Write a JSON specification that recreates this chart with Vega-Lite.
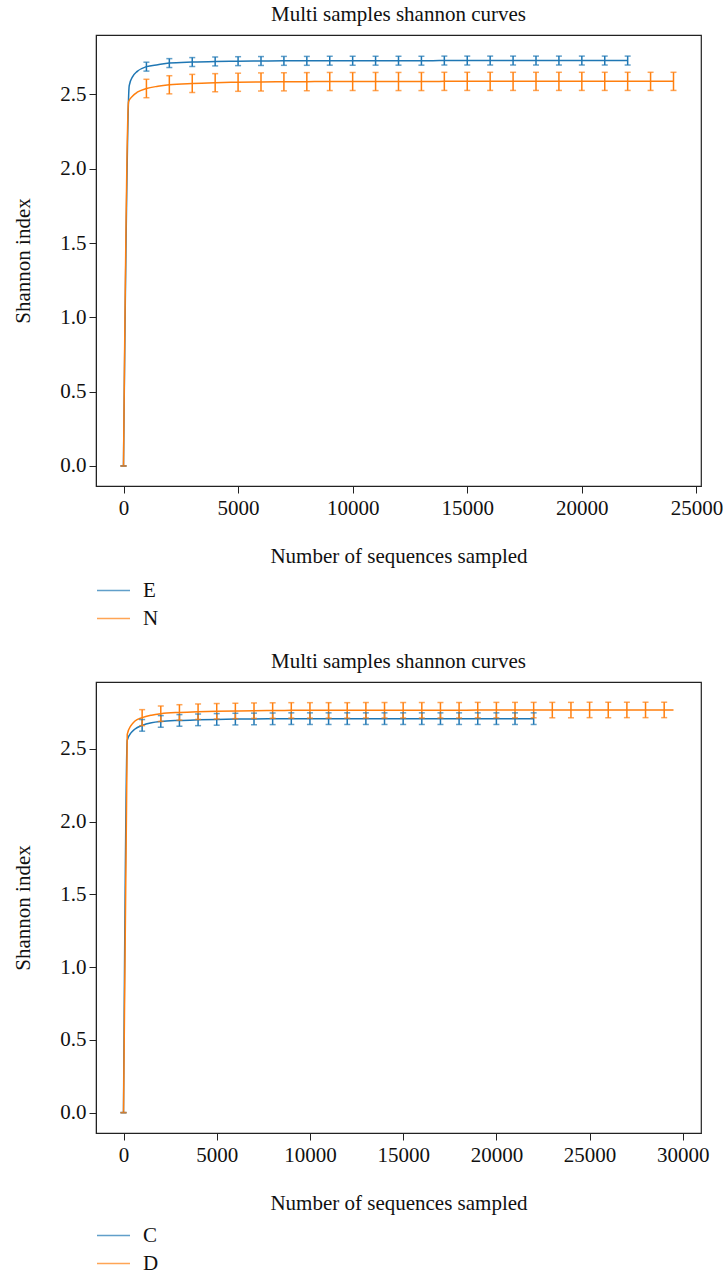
{
  "$schema": "https://vega.github.io/schema/vega-lite/v6.json",
  "background": "white",
  "padding": {"left": 12, "top": 3, "right": 0, "bottom": 0},
  "config": {
    "font": "'Liberation Serif', 'Times New Roman', serif",
    "view": {"stroke": "#222", "strokeWidth": 1.2},
    "axis": {"grid": false, "domainColor": "#222", "tickColor": "#222", "labelColor": "#111", "titleColor": "#111", "labelFontSize": 21, "titleFontSize": 21, "titleFontWeight": "normal", "tickSize": 7, "labelFont": "'Liberation Serif', 'Times New Roman', serif", "titleFont": "'Liberation Serif', 'Times New Roman', serif"},
    "title": {"fontSize": 21, "fontWeight": "normal", "color": "#111", "font": "'Liberation Serif', 'Times New Roman', serif", "offset": 10},
    "legend": {"symbolType": "stroke", "symbolSize": 1089, "symbolStrokeWidth": 1.5, "labelFontSize": 21, "labelFont": "'Liberation Serif', 'Times New Roman', serif", "labelColor": "#111", "labelOffset": 12, "rowPadding": -7, "padding": 0, "title": null},
    "concat": {"spacing": 20}
  },
  "datasets": {
    "top": [
      {"s":"E","x":0,"y":0,"lo":0,"hi":0},
      {"s":"E","x":250,"y":2.56},
      {"s":"E","x":400,"y":2.62},
      {"s":"E","x":600,"y":2.655},
      {"s":"E","x":1000,"y":2.687,"lo":2.657,"hi":2.717},
      {"s":"E","x":1500,"y":2.700},
      {"s":"E","x":2000,"y":2.711,"lo":2.681,"hi":2.741},
      {"s":"E","x":3000,"y":2.718,"lo":2.688,"hi":2.748},
      {"s":"E","x":4000,"y":2.722,"lo":2.692,"hi":2.752},
      {"s":"E","x":5000,"y":2.724,"lo":2.694,"hi":2.754},
      {"s":"E","x":6000,"y":2.725,"lo":2.695,"hi":2.755},
      {"s":"E","x":7000,"y":2.726,"lo":2.696,"hi":2.756},
      {"s":"E","x":8000,"y":2.726,"lo":2.696,"hi":2.756},
      {"s":"E","x":9000,"y":2.727,"lo":2.697,"hi":2.757},
      {"s":"E","x":10000,"y":2.727,"lo":2.697,"hi":2.757},
      {"s":"E","x":11000,"y":2.727,"lo":2.697,"hi":2.757},
      {"s":"E","x":12000,"y":2.727,"lo":2.697,"hi":2.757},
      {"s":"E","x":13000,"y":2.727,"lo":2.697,"hi":2.757},
      {"s":"E","x":14000,"y":2.728,"lo":2.698,"hi":2.758},
      {"s":"E","x":15000,"y":2.728,"lo":2.698,"hi":2.758},
      {"s":"E","x":16000,"y":2.728,"lo":2.698,"hi":2.758},
      {"s":"E","x":17000,"y":2.728,"lo":2.698,"hi":2.758},
      {"s":"E","x":18000,"y":2.728,"lo":2.698,"hi":2.758},
      {"s":"E","x":19000,"y":2.728,"lo":2.698,"hi":2.758},
      {"s":"E","x":20000,"y":2.728,"lo":2.698,"hi":2.758},
      {"s":"E","x":21000,"y":2.728,"lo":2.698,"hi":2.758},
      {"s":"E","x":22000,"y":2.728,"lo":2.698,"hi":2.758},
      {"s":"N","x":0,"y":0,"lo":0,"hi":0},
      {"s":"N","x":220,"y":2.45},
      {"s":"N","x":400,"y":2.49},
      {"s":"N","x":600,"y":2.515},
      {"s":"N","x":1000,"y":2.540,"lo":2.478,"hi":2.602},
      {"s":"N","x":1500,"y":2.555},
      {"s":"N","x":2000,"y":2.565,"lo":2.504,"hi":2.626},
      {"s":"N","x":3000,"y":2.574,"lo":2.513,"hi":2.635},
      {"s":"N","x":4000,"y":2.579,"lo":2.518,"hi":2.640},
      {"s":"N","x":5000,"y":2.582,"lo":2.521,"hi":2.643},
      {"s":"N","x":6000,"y":2.584,"lo":2.523,"hi":2.645},
      {"s":"N","x":7000,"y":2.585,"lo":2.524,"hi":2.646},
      {"s":"N","x":8000,"y":2.586,"lo":2.525,"hi":2.647},
      {"s":"N","x":9000,"y":2.587,"lo":2.526,"hi":2.648},
      {"s":"N","x":10000,"y":2.587,"lo":2.526,"hi":2.648},
      {"s":"N","x":11000,"y":2.587,"lo":2.526,"hi":2.648},
      {"s":"N","x":12000,"y":2.587,"lo":2.526,"hi":2.648},
      {"s":"N","x":13000,"y":2.587,"lo":2.526,"hi":2.648},
      {"s":"N","x":14000,"y":2.588,"lo":2.527,"hi":2.649},
      {"s":"N","x":15000,"y":2.588,"lo":2.527,"hi":2.649},
      {"s":"N","x":16000,"y":2.588,"lo":2.527,"hi":2.649},
      {"s":"N","x":17000,"y":2.588,"lo":2.527,"hi":2.649},
      {"s":"N","x":18000,"y":2.588,"lo":2.527,"hi":2.649},
      {"s":"N","x":19000,"y":2.588,"lo":2.527,"hi":2.649},
      {"s":"N","x":20000,"y":2.588,"lo":2.527,"hi":2.649},
      {"s":"N","x":21000,"y":2.588,"lo":2.527,"hi":2.649},
      {"s":"N","x":22000,"y":2.588,"lo":2.527,"hi":2.649},
      {"s":"N","x":23000,"y":2.588,"lo":2.527,"hi":2.649},
      {"s":"N","x":24000,"y":2.588,"lo":2.527,"hi":2.649}
    ],
    "bottom": [
      {"s":"C","x":0,"y":0,"lo":0,"hi":0},
      {"s":"C","x":200,"y":2.56},
      {"s":"C","x":400,"y":2.61},
      {"s":"C","x":600,"y":2.635},
      {"s":"C","x":1000,"y":2.662,"lo":2.622,"hi":2.702},
      {"s":"C","x":1500,"y":2.680},
      {"s":"C","x":2000,"y":2.689,"lo":2.649,"hi":2.729},
      {"s":"C","x":3000,"y":2.696,"lo":2.656,"hi":2.736},
      {"s":"C","x":4000,"y":2.700,"lo":2.660,"hi":2.740},
      {"s":"C","x":5000,"y":2.703,"lo":2.663,"hi":2.743},
      {"s":"C","x":6000,"y":2.705,"lo":2.665,"hi":2.745},
      {"s":"C","x":7000,"y":2.706,"lo":2.666,"hi":2.746},
      {"s":"C","x":8000,"y":2.707,"lo":2.667,"hi":2.747},
      {"s":"C","x":9000,"y":2.708,"lo":2.668,"hi":2.748},
      {"s":"C","x":10000,"y":2.708,"lo":2.668,"hi":2.748},
      {"s":"C","x":11000,"y":2.708,"lo":2.668,"hi":2.748},
      {"s":"C","x":12000,"y":2.708,"lo":2.668,"hi":2.748},
      {"s":"C","x":13000,"y":2.708,"lo":2.668,"hi":2.748},
      {"s":"C","x":14000,"y":2.708,"lo":2.668,"hi":2.748},
      {"s":"C","x":15000,"y":2.708,"lo":2.668,"hi":2.748},
      {"s":"C","x":16000,"y":2.708,"lo":2.668,"hi":2.748},
      {"s":"C","x":17000,"y":2.708,"lo":2.668,"hi":2.748},
      {"s":"C","x":18000,"y":2.708,"lo":2.668,"hi":2.748},
      {"s":"C","x":19000,"y":2.708,"lo":2.668,"hi":2.748},
      {"s":"C","x":20000,"y":2.708,"lo":2.668,"hi":2.748},
      {"s":"C","x":21000,"y":2.708,"lo":2.668,"hi":2.748},
      {"s":"C","x":22000,"y":2.708,"lo":2.668,"hi":2.748},
      {"s":"D","x":0,"y":0,"lo":0,"hi":0},
      {"s":"D","x":200,"y":2.60},
      {"s":"D","x":400,"y":2.66},
      {"s":"D","x":600,"y":2.69},
      {"s":"D","x":1000,"y":2.715,"lo":2.660,"hi":2.770},
      {"s":"D","x":1500,"y":2.732},
      {"s":"D","x":2000,"y":2.742,"lo":2.689,"hi":2.795},
      {"s":"D","x":3000,"y":2.751,"lo":2.698,"hi":2.804},
      {"s":"D","x":4000,"y":2.756,"lo":2.703,"hi":2.809},
      {"s":"D","x":5000,"y":2.759,"lo":2.706,"hi":2.812},
      {"s":"D","x":6000,"y":2.761,"lo":2.708,"hi":2.814},
      {"s":"D","x":7000,"y":2.763,"lo":2.710,"hi":2.816},
      {"s":"D","x":8000,"y":2.764,"lo":2.711,"hi":2.817},
      {"s":"D","x":9000,"y":2.765,"lo":2.712,"hi":2.818},
      {"s":"D","x":10000,"y":2.765,"lo":2.712,"hi":2.818},
      {"s":"D","x":11000,"y":2.765,"lo":2.712,"hi":2.818},
      {"s":"D","x":12000,"y":2.765,"lo":2.712,"hi":2.818},
      {"s":"D","x":13000,"y":2.766,"lo":2.713,"hi":2.819},
      {"s":"D","x":14000,"y":2.766,"lo":2.713,"hi":2.819},
      {"s":"D","x":15000,"y":2.766,"lo":2.713,"hi":2.819},
      {"s":"D","x":16000,"y":2.766,"lo":2.713,"hi":2.819},
      {"s":"D","x":17000,"y":2.766,"lo":2.713,"hi":2.819},
      {"s":"D","x":18000,"y":2.766,"lo":2.713,"hi":2.819},
      {"s":"D","x":19000,"y":2.767,"lo":2.714,"hi":2.820},
      {"s":"D","x":20000,"y":2.767,"lo":2.714,"hi":2.820},
      {"s":"D","x":21000,"y":2.767,"lo":2.714,"hi":2.820},
      {"s":"D","x":22000,"y":2.767,"lo":2.714,"hi":2.820},
      {"s":"D","x":23000,"y":2.767,"lo":2.714,"hi":2.820},
      {"s":"D","x":24000,"y":2.767,"lo":2.714,"hi":2.820},
      {"s":"D","x":25000,"y":2.768,"lo":2.715,"hi":2.821},
      {"s":"D","x":26000,"y":2.768,"lo":2.715,"hi":2.821},
      {"s":"D","x":27000,"y":2.768,"lo":2.715,"hi":2.821},
      {"s":"D","x":28000,"y":2.768,"lo":2.715,"hi":2.821},
      {"s":"D","x":29000,"y":2.768,"lo":2.715,"hi":2.821},
      {"s":"D","x":29500,"y":2.768}
    ]
  },
  "vconcat": [
    {
      "title": "Multi samples shannon curves",
      "width": 605,
      "height": 451,
      "data": {"name": "top"},
      "encoding": {
        "x": {"field": "x", "type": "quantitative", "scale": {"domain": [-1200, 25200], "nice": false, "zero": false},
              "axis": {"values": [0, 5000, 10000, 15000, 20000, 25000], "format": "d", "title": "Number of sequences sampled", "labelPadding": 4, "titlePadding": 27}},
        "color": {"field": "s", "type": "nominal", "scale": {"domain": ["E", "N"], "range": ["#1f77b4", "#ff7f0e"]},
                  "legend": {"orient": "none", "legendX": 0, "legendY": 538, "direction": "vertical"}}
      },
      "layer": [
        {"mark": {"type": "line", "strokeWidth": 1.5, "interpolate": "monotone"},
         "encoding": {"y": {"field": "y", "type": "quantitative", "scale": {"domain": [-0.135, 2.9], "nice": false, "zero": false},
              "axis": {"values": [0, 0.5, 1, 1.5, 2, 2.5], "format": ".1f", "title": "Shannon index", "labelPadding": 3, "titlePadding": 26}}}},
        {"transform": [{"filter": "isValid(datum.lo)"}],
         "mark": {"type": "rule", "strokeWidth": 1.5},
         "encoding": {"y": {"field": "lo", "type": "quantitative"}, "y2": {"field": "hi"}}},
        {"transform": [{"filter": "isValid(datum.lo)"}],
         "mark": {"type": "tick", "orient": "horizontal", "size": 6, "thickness": 1.5},
         "encoding": {"y": {"field": "lo", "type": "quantitative"}}},
        {"transform": [{"filter": "isValid(datum.lo)"}],
         "mark": {"type": "tick", "orient": "horizontal", "size": 6, "thickness": 1.5},
         "encoding": {"y": {"field": "hi", "type": "quantitative"}}}
      ]
    },
    {
      "title": "Multi samples shannon curves",
      "width": 605,
      "height": 451,
      "data": {"name": "bottom"},
      "encoding": {
        "x": {"field": "x", "type": "quantitative", "scale": {"domain": [-1475, 30975], "nice": false, "zero": false},
              "axis": {"values": [0, 5000, 10000, 15000, 20000, 25000, 30000], "format": "d", "title": "Number of sequences sampled", "labelPadding": 4, "titlePadding": 27}},
        "color": {"field": "s", "type": "nominal", "scale": {"domain": ["C", "D"], "range": ["#1f77b4", "#ff7f0e"]},
                  "legend": {"orient": "none", "legendX": 0, "legendY": 536, "direction": "vertical"}}
      },
      "layer": [
        {"mark": {"type": "line", "strokeWidth": 1.5, "interpolate": "monotone"},
         "encoding": {"y": {"field": "y", "type": "quantitative", "scale": {"domain": [-0.14, 2.96], "nice": false, "zero": false},
              "axis": {"values": [0, 0.5, 1, 1.5, 2, 2.5], "format": ".1f", "title": "Shannon index", "labelPadding": 3, "titlePadding": 26}}}},
        {"transform": [{"filter": "isValid(datum.lo)"}],
         "mark": {"type": "rule", "strokeWidth": 1.5},
         "encoding": {"y": {"field": "lo", "type": "quantitative"}, "y2": {"field": "hi"}}},
        {"transform": [{"filter": "isValid(datum.lo)"}],
         "mark": {"type": "tick", "orient": "horizontal", "size": 6, "thickness": 1.5},
         "encoding": {"y": {"field": "lo", "type": "quantitative"}}},
        {"transform": [{"filter": "isValid(datum.lo)"}],
         "mark": {"type": "tick", "orient": "horizontal", "size": 6, "thickness": 1.5},
         "encoding": {"y": {"field": "hi", "type": "quantitative"}}}
      ]
    }
  ],
  "resolve": {"scale": {"color": "independent", "x": "independent", "y": "independent"}, "legend": {"color": "independent"}}
}
